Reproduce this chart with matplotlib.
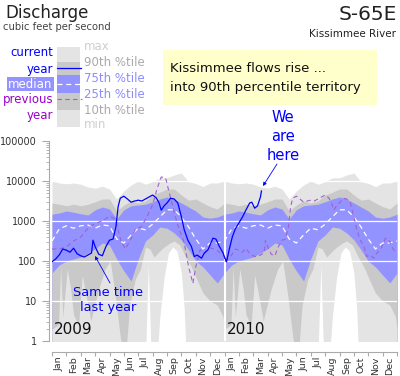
import matplotlib
matplotlib.use('Agg')
import matplotlib.pyplot as plt
import numpy as np
from matplotlib.patches import Rectangle

# climatology, log10(cfs), every half month (Jan 1, Jan 15, ...)
clim_t = np.arange(24) / 2.0
q_max = [4.0, 3.95, 3.93, 3.95, 3.92, 3.85, 3.82, 3.87, 3.8, 3.55, 3.75, 3.9,
         4.0, 3.92, 3.98, 4.08, 4.08, 4.15, 4.2, 3.98, 3.94, 3.86, 3.95, 3.95]
q_90 = [3.45, 3.42, 3.38, 3.42, 3.38, 3.42, 3.48, 3.55, 3.55, 3.25, 3.4, 3.5,
        3.45, 3.5, 3.65, 3.72, 3.8, 3.8, 3.65, 3.52, 3.55, 3.45, 3.36, 3.3]
q_75 = [3.17, 3.2, 3.25, 3.22, 3.18, 3.15, 3.28, 3.35, 3.3, 3.05, 3.28, 3.38,
        3.4, 3.42, 3.48, 3.55, 3.6, 3.55, 3.45, 3.35, 3.25, 3.1, 3.07, 3.1]
q_50 = [2.5, 2.8, 2.88, 2.82, 2.88, 2.9, 2.82, 2.9, 2.88, 2.55, 2.45, 2.65,
        2.82, 2.78, 2.92, 3.1, 3.28, 3.28, 3.1, 2.85, 2.55, 2.3, 2.45, 2.45]
q_25 = [1.7, 1.9, 2.0, 2.05, 2.1, 2.2, 2.3, 2.45, 2.4, 2.05, 1.75, 1.5,
        2.05, 2.5, 2.65, 2.85, 2.82, 2.7, 2.53, 2.28, 2.0, 1.85, 1.65, 1.45]

# 10th percentile and min are spikier, own month positions
q10_t = [0, 0.45, 0.6, 0.75, 1.06, 1.3, 1.5, 1.85, 2.1, 2.35, 2.7, 2.9, 3.25, 3.7,
         4.05, 4.4, 4.75, 5.1, 5.4, 5.8, 6.15, 6.5, 6.8, 7.1, 7.5, 7.8, 8.2, 8.5,
         8.9, 9.3, 9.7, 10.0, 10.5, 11.0, 11.5, 11.9]
q10_v = [0.3, 0.4, 1.85, 0.6, 1.8, 1.3, 0.65, 0.4, 1.65, 1.2, 0.5, 0.8, 1.3, 1.8,
         2.0, 1.15, 0.1, -0.5, 0.9, 1.55, 1.8, 2.35, 2.3, 2.1, 2.25, 2.35, 2.45, 2.5,
         2.4, 2.1, 1.85, 1.6, 1.2, 1.0, 0.9, 0.6]
qmin_t = [0, 6.45, 6.7, 6.95, 7.2, 7.5, 7.8, 8.1, 8.4, 8.7, 9.0, 9.2, 9.4, 12]
qmin_v = [-1, -1, 1.9, -1, -1, 0.6, 1.6, 2.2, 2.35, 2.25, 1.7, 0.8, -1, -1]

# current year 2009 (months since Jan 1 2009)
cur09_t = [0.0, 0.25, 0.5, 0.75, 1.0, 1.25, 1.5, 1.75, 2.0, 2.25, 2.5, 2.75, 2.85,
           3.0, 3.25, 3.5, 3.75, 4.0, 4.25, 4.45, 4.6, 4.75, 5.0, 5.25, 5.5, 5.75,
           6.0, 6.25, 6.5, 6.75, 7.0, 7.25, 7.45, 7.6, 7.8, 8.0, 8.25, 8.5, 8.75,
           9.0, 9.2, 9.45, 9.7, 9.9, 10.1, 10.4, 10.6, 10.85, 11.2, 11.4, 11.65, 11.9]
cur09_v = [1.98, 2.05, 2.15, 2.3, 2.27, 2.22, 2.32, 2.18, 2.13, 2.1, 2.15, 2.2, 2.52,
           2.36, 2.17, 2.13, 2.36, 2.52, 2.55, 2.86, 3.36, 3.57, 3.62, 3.55, 3.47, 3.5,
           3.52, 3.5, 3.55, 3.6, 3.65, 3.58, 3.45, 3.27, 3.38, 3.45, 3.57, 3.55, 3.45,
           3.11, 2.78, 2.52, 2.36, 2.11, 2.15, 2.07, 2.2, 2.28, 2.57, 2.55, 2.36, 2.2]
# current year 2010
cur10_t = [0.0, 0.14, 0.35, 0.55, 0.75, 1.0, 1.25, 1.5, 1.75, 1.9, 2.1, 2.3, 2.5, 2.57]
cur10_v = [2.1, 1.98, 2.32, 2.61, 2.8, 2.95, 3.1, 3.28, 3.45, 3.47, 3.32, 3.38, 3.6, 3.75]
# previous year 2008 (shown under 2009)
prev08_t = [0, 0.5, 1.0, 1.5, 2.0, 2.5, 3.0, 3.5, 4.0, 4.4, 4.8, 5.1, 5.5, 5.8, 6.2,
            6.6, 7.0, 7.3, 7.6, 7.9, 8.3, 8.7, 9.2, 9.5, 9.8, 10.0, 10.3, 10.6, 11.0,
            11.5, 12.0]
prev08_v = [2.3, 2.3, 2.35, 2.5, 2.6, 2.82, 2.94, 3.0, 3.12, 3.05, 2.5, 2.3, 2.55, 2.8,
            2.85, 3.1, 3.4, 3.8, 4.1, 4.08, 3.5, 2.95, 2.45, 1.86, 1.44, 1.85, 2.28,
            2.2, 2.33, 2.27, 2.1]

months = ['Jan', 'Feb', 'Mar', 'Apr', 'May', 'Jun',
          'Jul', 'Aug', 'Sep', 'Oct', 'Nov', 'Dec']

LIGHT = '#e4e4e4'
MID = '#c9c9c9'
BLUE = '#9393ff'
PURPLE = '#9900cc'


def two_years(t, v):
    # climatology repeated for 2009 and 2010, closed at the end
    t = np.asarray(t, float)
    v = np.asarray(v, float)
    tt = np.concatenate([t, t + 12, [24]])
    vv = np.concatenate([v, v, [v[0]]])
    return tt, 10 ** vv


fig = plt.figure(figsize=(4, 3.76), dpi=100)
ax = fig.add_axes([52 / 400, 35 / 376, 345 / 400, 200 / 376])

# bands painted top down, each from its curve to the floor
for (t, v), col in [((clim_t, q_max), LIGHT), ((clim_t, q_90), MID),
                    ((clim_t, q_75), BLUE), ((clim_t, q_25), MID),
                    ((q10_t, q10_v), LIGHT), ((qmin_t, qmin_v), 'white')]:
    xx, yy = two_years(t, v)
    ax.fill_between(xx, yy, 0.01, color=col, lw=0, zorder=1)

for g in [10, 100, 1000, 10000]:
    ax.axhline(g, color='white', lw=0.9, zorder=2)
ax.axvline(12, color='white', lw=1.5, zorder=2)

# median
mt, mv = two_years(clim_t, q_50)
ax.plot(mt, mv, color='white', lw=0.9, ls=(0, (4, 3)), zorder=3)
# previous year
pt = np.concatenate([prev08_t, np.array(cur09_t) + 12])
pv = 10 ** np.concatenate([prev08_v, cur09_v])
ax.plot(pt, pv, color='#a060d0', lw=0.8, ls=(0, (4, 3)), zorder=3)
# current year
ct = np.concatenate([cur09_t, np.array(cur10_t) + 12])
cv = 10 ** np.concatenate([cur09_v, cur10_v])
ax.plot(ct, cv, color='#0000ff', lw=0.9, zorder=4)

ax.set_yscale('log')
ax.set_ylim(1, 100000)
ax.set_xlim(0, 24)
ax.set_yticks([1, 10, 100, 1000, 10000, 100000])
ax.set_yticklabels(['1', '10', '100', '1000', '10000', '100000'])
ax.yaxis.set_minor_locator(matplotlib.ticker.LogLocator(base=10, subs=np.arange(2, 10)))
ax.yaxis.set_minor_formatter(matplotlib.ticker.NullFormatter())
ax.set_xticks(np.arange(25))
ax.set_xticklabels([])
ax.set_xticks(np.arange(24) + 0.5, minor=True)
ax.set_xticklabels(months * 2, minor=True)
ax.tick_params(axis='y', which='major', length=5, width=0.8, color='#aaaaaa',
               labelsize=7, labelcolor='#333333', pad=4)
ax.tick_params(axis='y', which='minor', length=2.5, width=0.6, color='#aaaaaa')
ax.tick_params(axis='x', which='major', length=3, width=0.8, color='#aaaaaa')
ax.tick_params(axis='x', which='minor', length=0, labelsize=6.8, labelrotation=90,
               labelcolor='#333333', pad=3)
for s in ['top', 'right']:
    ax.spines[s].set_visible(False)
ax.spines['left'].set_position(('outward', 2))
ax.spines['bottom'].set_position(('outward', 8))
ax.spines['left'].set_color('#aaaaaa')
ax.spines['bottom'].set_color('#aaaaaa')
ax.set_facecolor('white')

# overlay in pixel coordinates for the text furniture
ov = fig.add_axes([0, 0, 1, 1])
ov.set_xlim(0, 400)
ov.set_ylim(376, 0)
ov.axis('off')

ov.text(5, 13, 'Discharge', fontsize=12, color='#222222', va='center')
ov.text(3, 27, 'cubic feet per second', fontsize=7.2, color='#444444', va='center')
ov.text(397, 15, 'S-65E', fontsize=14.5, color='#222222', va='center', ha='right')
ov.text(396, 34, 'Kissimmee River', fontsize=7.5, color='#222222', va='center', ha='right')

# legend column
col_parts = [(47, 62, LIGHT), (62, 75, MID), (75, 93, BLUE), (93, 110, MID), (110, 127, LIGHT)]
for y0, y1, c in col_parts:
    ov.add_patch(Rectangle((57, y0), 23, y1 - y0, color=c, lw=0))
ov.plot([57, 81], [68, 68], color='#0000ff', lw=0.9)
ov.plot([57, 80], [84, 84], color='white', lw=0.9, ls=(0, (4, 3)))
ov.plot([57, 82], [99, 99], color='#a060d0', lw=0.8, ls=(0, (4, 3)))
ov.add_patch(Rectangle((7, 77), 47, 14, color=BLUE, lw=0))
ov.text(53, 53, 'current', fontsize=8.5, color='#0000ff', ha='right', va='center')
ov.text(53, 69, 'year', fontsize=8.5, color='#0000ff', ha='right', va='center')
ov.text(30.5, 84, 'median', fontsize=8.5, color='white', ha='center', va='center')
ov.text(53, 100, 'previous', fontsize=8.5, color=PURPLE, ha='right', va='center')
ov.text(53, 116, 'year', fontsize=8.5, color=PURPLE, ha='right', va='center')

leg_right = [('max', 47, '#cfcfcf'), ('90th %tile', 62, '#aaaaaa'),
             ('75th %tile', 78, '#8c8cff'), ('25th %tile', 95, '#8c8cff'),
             ('10th %tile', 111, '#aaaaaa'), ('min', 125, '#cfcfcf')]
for txt, y, c in leg_right:
    ov.text(84, y, txt, fontsize=8.5, color=c, va='center')

# note box
ov.add_patch(Rectangle((163, 50), 214, 55, color='#ffffcc', lw=0))
ov.text(170, 69, 'Kissimmee flows rise ...', fontsize=9.5, color='#111111', va='center')
ov.text(170, 88, 'into 90th percentile territory', fontsize=9.5, color='#111111', va='center')

# callouts
for i, w in enumerate(['We', 'are', 'here']):
    ov.text(283, 117 + 19.5 * i, w, fontsize=10.5, color='#0000ff', ha='center', va='center')
ov.annotate('', xy=(263, 186), xytext=(277, 164),
            arrowprops=dict(arrowstyle='-|>', color='#0000ff', lw=0.6,
                            mutation_scale=5, shrinkA=0, shrinkB=0))
ov.text(108, 292, 'Same time', fontsize=9.3, color='#0000ff', ha='center', va='center')
ov.text(108, 307, 'last year', fontsize=9.3, color='#0000ff', ha='center', va='center')
ov.annotate('', xy=(95, 256), xytext=(110, 283),
            arrowprops=dict(arrowstyle='-|>', color='#0000ff', lw=0.6,
                            mutation_scale=5, shrinkA=0, shrinkB=0))
ov.text(54, 330, '2009', fontsize=11, color='#111111', va='center')
ov.text(227, 330, '2010', fontsize=11, color='#111111', va='center')

fig.savefig('out.png', dpi=100)
